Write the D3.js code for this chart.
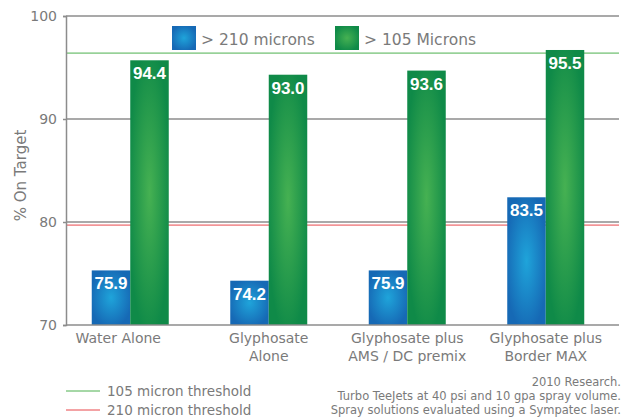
<!DOCTYPE html>
<html lang="en">
<head>
  <meta charset="UTF-8">
  <title>% On Target</title>
  <script src="https://d3js.org/d3.v7.min.js"></script>
  <style>
    html, body {
      margin: 0;
      padding: 0;
      background: #fff;
    }
    svg text {
      font-family: 'DejaVu Sans', sans-serif;
      fill: #7a7a7a;
    }
    svg text.val {
      font-family: 'Liberation Sans', Arial, sans-serif;
      font-weight: bold;
      fill: #fff;
    }
  </style>
</head>
<body>
<svg width="624" height="418"></svg>
<script>
  // categories and values
  const categories = ["Water Alone", "Glyphosate\nAlone", "Glyphosate plus\nAMS / DC premix", "Glyphosate plus\nBorder MAX"];
  const blueLabels = ["75.9", "74.2", "75.9", "83.5"];
  const greenLabels = ["94.4", "93.0", "93.6", "95.5"];
  // bar tops as drawn in the picture
  const blueBars = [75.3, 74.3, 75.3, 82.4];
  const greenBars = [95.7, 94.3, 94.7, 96.7];
  const yTicks = [70, 80, 90, 100];
  const threshold105 = 96.4;
  const threshold210 = 79.7;
  const footnotes = ["2010 Research.", "Turbo TeeJets at 40 psi and 10 gpa spray volume.", "Spray solutions evaluated using a Sympatec laser."];

  const svg = d3.select("svg");
  const plotLeft = 66, plotRight = 619, plotTop = 16, plotBottom = 325;

  const y = d3.scaleLinear().domain([70, 100]).range([plotBottom, plotTop]);
  const x = d3.scaleBand().domain(categories).range([61, 615]).padding(0);
  const inner = d3.scaleBand().domain(["blue", "green"]).range([-38.5, 38.5]);

  // gradients
  const defs = svg.append("defs");
  function radial(id, light, dark) {
    const g = defs.append("radialGradient").attr("id", id)
      .attr("cx", 0.5).attr("cy", 0.5).attr("r", 0.55);
    g.append("stop").attr("offset", "0%").attr("stop-color", light);
    g.append("stop").attr("offset", "100%").attr("stop-color", dark);
  }
  radial("gBlue", "#1fa4da", "#1669b5");
  radial("gGreen", "#46b152", "#0f8a48");

  // gridlines
  svg.append("g").selectAll("line").data(yTicks.filter(d => d > 70)).join("line")
    .attr("x1", plotLeft).attr("x2", plotRight)
    .attr("y1", d => y(d)).attr("y2", d => y(d))
    .attr("stroke", "#8c8c8c").attr("stroke-width", 1.5);

  // threshold lines
  svg.append("line").attr("x1", plotLeft).attr("x2", plotRight)
    .attr("y1", y(threshold105)).attr("y2", y(threshold105))
    .attr("stroke", "#4cb04f").attr("stroke-width", 1);
  svg.append("line").attr("x1", plotLeft).attr("x2", plotRight)
    .attr("y1", y(threshold210)).attr("y2", y(threshold210))
    .attr("stroke", "#e8474a").attr("stroke-width", 1);

  // y axis
  const yAxis = svg.append("g").attr("transform", `translate(${plotLeft},0)`)
    .call(d3.axisLeft(y).tickValues(yTicks).tickSize(3).tickPadding(6));
  yAxis.select(".domain").attr("stroke", "#8c8c8c").attr("stroke-width", 1.5);
  yAxis.selectAll(".tick line").attr("stroke", "#8c8c8c").attr("stroke-width", 1.5);
  yAxis.selectAll("text").attr("font-size", 14).attr("fill", "#7a7a7a")
    .style("font-family", "'DejaVu Sans', sans-serif");

  svg.append("text")
    .attr("transform", `translate(26,${(plotTop + plotBottom) / 2 + 5}) rotate(-90)`)
    .attr("text-anchor", "middle").attr("font-size", 15)
    .text("% On Target");

  // bars
  const groups = svg.append("g").selectAll("g").data(categories).join("g")
    .attr("transform", d => `translate(${x(d) + x.bandwidth() / 2},0)`);

  groups.append("rect")
    .attr("x", inner("blue")).attr("width", inner.bandwidth())
    .attr("y", (d, i) => y(blueBars[i])).attr("height", (d, i) => y(70) - y(blueBars[i]))
    .attr("fill", "url(#gBlue)");
  groups.append("rect")
    .attr("x", inner("green")).attr("width", inner.bandwidth())
    .attr("y", (d, i) => y(greenBars[i])).attr("height", (d, i) => y(70) - y(greenBars[i]))
    .attr("fill", "url(#gGreen)");

  groups.append("text").attr("class", "val")
    .attr("x", inner("blue") + inner.bandwidth() / 2)
    .attr("y", (d, i) => y(blueBars[i]) + 19)
    .attr("text-anchor", "middle").attr("font-size", 17)
    .text((d, i) => blueLabels[i]);
  groups.append("text").attr("class", "val")
    .attr("x", inner("green") + inner.bandwidth() / 2)
    .attr("y", (d, i) => y(greenBars[i]) + 19)
    .attr("text-anchor", "middle").attr("font-size", 17)
    .text((d, i) => greenLabels[i]);

  // baseline
  svg.append("line").attr("x1", plotLeft).attr("x2", plotRight)
    .attr("y1", y(70)).attr("y2", y(70))
    .attr("stroke", "#8c8c8c").attr("stroke-width", 1.5);

  // category labels (the first one sits a little left of its bars)
  groups.append("text")
    .attr("text-anchor", "middle").attr("font-size", 14)
    .attr("transform", (d, i) => i === 0 ? "translate(-12,0)" : null)
    .selectAll("tspan").data(d => d.split("\n")).join("tspan")
    .attr("x", 0).attr("y", (d, i) => 343 + i * 18)
    .text(d => d);

  // top legend
  const legend = [
    { label: "> 210 microns", fill: "url(#gBlue)", x: 172 },
    { label: "> 105 Microns", fill: "url(#gGreen)", x: 335 }
  ];
  const lg = svg.append("g").selectAll("g").data(legend).join("g")
    .attr("transform", d => `translate(${d.x},26)`);
  lg.append("rect").attr("width", 24).attr("height", 24).attr("fill", d => d.fill);
  lg.append("text").attr("x", 29).attr("y", 18.5).attr("font-size", 15.5).text(d => d.label);

  // threshold legend
  const thr = [
    { label: "105 micron threshold", color: "#4cb04f", y: 391 },
    { label: "210 micron threshold", color: "#e8474a", y: 410 }
  ];
  const tg = svg.append("g").selectAll("g").data(thr).join("g")
    .attr("transform", d => `translate(66,${d.y})`);
  tg.append("line").attr("x1", 0).attr("x2", 34).attr("stroke", d => d.color).attr("stroke-width", 1);
  tg.append("text").attr("x", 41).attr("y", 5).attr("font-size", 13.5).text(d => d.label);

  // footnote
  svg.append("g").selectAll("text").data(footnotes).join("text")
    .attr("x", 621).attr("y", (d, i) => 386 + i * 14)
    .attr("text-anchor", "end").attr("font-size", 11.5)
    .text(d => d);
</script>
</body>
</html>
